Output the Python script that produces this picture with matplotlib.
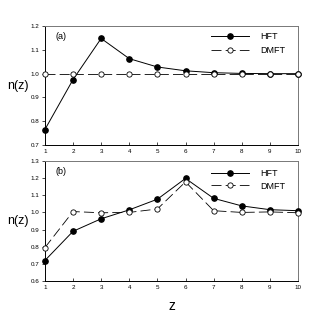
import matplotlib
matplotlib.use('Agg')
import matplotlib.pyplot as plt

plt.rcParams['font.family'] = ['Liberation Sans', 'DejaVu Sans']

z = [1, 2, 3, 4, 5, 6, 7, 8, 9, 10]

# panel (a)
hft_a = [0.765, 0.975, 1.148, 1.063, 1.028, 1.012, 1.004, 1.001, 1.000, 1.000]
dmft_a = [1.0, 1.0, 1.0, 1.0, 1.0, 1.0, 1.0, 1.0, 1.0, 1.0]

# panel (b)
hft_b = [0.72, 0.89, 0.963, 1.015, 1.077, 1.198, 1.082, 1.038, 1.016, 1.01]
dmft_b = [0.795, 1.005, 0.998, 1.0, 1.02, 1.178, 1.01, 1.0, 1.003, 0.998]

fig = plt.figure(figsize=(3.14, 3.18), dpi=100)
ax1 = fig.add_axes([0.143, 0.544, 0.806, 0.374])
ax2 = fig.add_axes([0.143, 0.116, 0.806, 0.378])


def style(ax, hft, dmft, ylim, yticks, label, leg_y, spacing):
    ax.plot(z, hft, color='black', lw=0.7, marker='o', ms=3.8,
            mfc='black', mec='black', label='HFT', clip_on=False, zorder=3)
    ax.plot(z, dmft, color='black', lw=0.6, dashes=(12, 5), marker='o',
            ms=3.8, mfc='white', mec='black', mew=0.6, label='DMFT',
            clip_on=False, zorder=4)
    ax.set_xlim(1, 10)
    ax.set_ylim(*ylim)
    ax.set_xticks(z)
    ax.set_yticks(yticks)
    ax.set_yticklabels([f'{v:.1f}' for v in yticks])
    ax.tick_params(axis='x', direction='in', length=2, width=0.5,
                   labelsize=4.5, pad=3)
    ax.tick_params(axis='y', direction='out', length=2, width=0.5,
                   labelsize=4.5, pad=2)
    for s in ['left', 'bottom']:
        ax.spines[s].set_linewidth(0.7)
    for s in ['top', 'right']:
        ax.spines[s].set_linewidth(0.7)
        ax.spines[s].set_color('#777777')
    ax.set_ylabel('n(z)', rotation=0, fontsize=9, labelpad=9, va='center')
    ax.text(0.04, 0.95, label, transform=ax.transAxes, fontsize=6.5,
            va='top', ha='left')
    ax.legend(loc='upper right', bbox_to_anchor=(0.98, leg_y), frameon=False,
              fontsize=6.5, handlelength=4.2, handletextpad=1.2,
              labelspacing=spacing)


style(ax1, hft_a, dmft_a, (0.7, 1.2), [0.7, 0.8, 0.9, 1.0, 1.1, 1.2],
      '(a)', 1.02, 0.6)
style(ax2, hft_b, dmft_b, (0.6, 1.3),
      [0.6, 0.7, 0.8, 0.9, 1.0, 1.1, 1.2, 1.3], '(b)', 1.0, 0.4)
ax2.set_xlabel('z', fontsize=10, labelpad=6)

fig.savefig('out.png', dpi=100)
